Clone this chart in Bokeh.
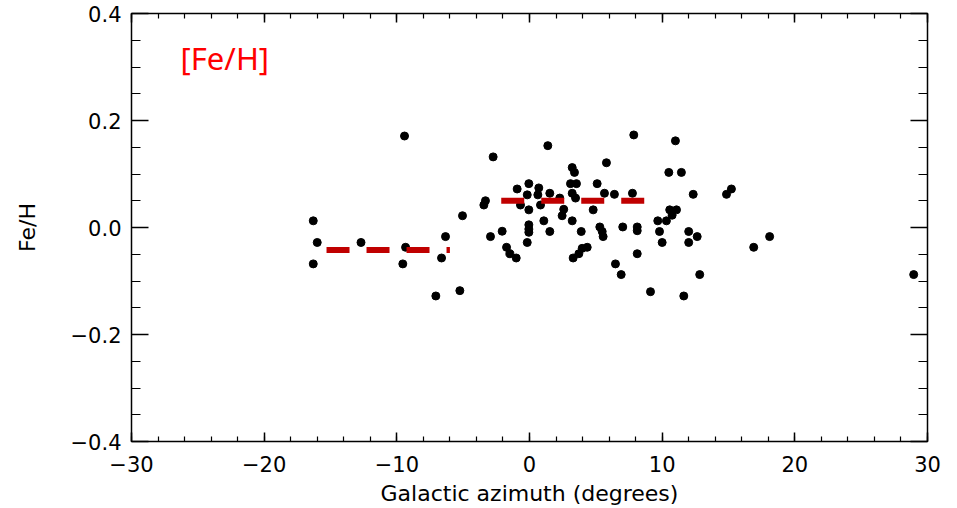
from bokeh.plotting import figure
from bokeh.models import LinearAxis, SingleIntervalTicker, Range1d, Label, ColumnDataSource
from bokeh.embed import file_html
from bokeh.resources import INLINE

# Galactic azimuth (degrees) and [Fe/H] of the stars
azimuth = [-16.3, -16.0, -16.3, -12.7, -9.34, -9.55, -9.42, -6.33, -6.63, -7.06, -5.25, -5.05,
           -3.32, -3.44, -2.94, -2.74, -2.06, -1.73, -1.48, -1.0, -0.93, -0.68, -0.17, -0.05,
           -0.05, -0.05, -0.05, -0.05, -0.17, 0.70, 0.63, 0.83, 1.08, 1.38, 1.53, 1.53,
           2.28, 2.58, 2.46, 3.22, 3.39, 3.09, 3.54, 3.22, 3.47, 3.22, 3.9, 3.29,
           3.72, 3.97, 4.35, 4.8, 5.1, 5.65, 5.8, 5.3, 5.48, 5.55, 6.4, 7.03,
           6.48, 6.91, 7.76, 7.86, 8.12, 8.12, 8.12,
           11.0, 10.5, 11.45, 12.34, 14.85, 15.22, 10.57, 11.08, 10.75, 9.67, 10.32, 9.8,
           12.0, 12.64, 10.0, 12.0, 12.83, 9.12, 11.63, 16.9, 18.1, 28.96]
feh = [0.0125, -0.028, -0.068, -0.028, -0.037, -0.068, 0.171, -0.017, -0.057, -0.128, -0.118, 0.022,
       0.050, 0.042, -0.017, 0.132, -0.007, -0.037, -0.049, -0.057, 0.072, 0.042, 0.061, 0.082,
       0.033, 0.005, -0.003, -0.009, -0.028, 0.074, 0.061, 0.042, 0.0125, 0.153, 0.064, -0.0075,
       0.055, 0.034, 0.022, 0.112, 0.103, 0.082, 0.082, 0.064, 0.055, 0.0125, -0.0075, -0.057,
       -0.049, -0.039, -0.037, 0.033, 0.082, 0.064, 0.121, 0.001, -0.0075, -0.017, 0.062, 0.001,
       -0.068, -0.088, 0.064, 0.173, 0.001, -0.006, -0.049,
       0.162, 0.103, 0.103, 0.062, 0.062, 0.072, 0.033, 0.033, 0.023, 0.0125, 0.0125, -0.0075,
       -0.0075, -0.017, -0.028, -0.028, -0.088, -0.12, -0.128, -0.037, -0.017, -0.088]

# Mean [Fe/H] of the two azimuth groups (dashed red lines)
mean_x_start = [-15.3, -2.13]
mean_x_end = [-6.0, 8.67]
mean_feh = [-0.042, 0.050]

x_ticks = [-30, -20, -10, 0, 10, 20, 30]
y_ticks = [-0.4, -0.2, 0.0, 0.2, 0.4]

p = figure(width=957, height=508, output_backend="svg", toolbar_location=None,
           x_range=Range1d(-30, 30), y_range=Range1d(-0.4, 0.4),
           min_border_left=131, min_border_right=30, min_border_top=13, min_border_bottom=67)
p.background_fill_color = "white"
p.border_fill_color = "white"
p.outline_line_color = "black"
p.outline_line_width = 1.5
p.xgrid.visible = False
p.ygrid.visible = False

font = "DejaVu Sans"

def style_axis(ax, major_in, minor_in, show_labels):
    ax.axis_line_color = None
    ax.major_tick_in = major_in
    ax.major_tick_out = 0
    ax.minor_tick_in = minor_in
    ax.minor_tick_out = 0
    ax.major_tick_line_color = "black"
    ax.minor_tick_line_color = "black"
    ax.major_tick_line_width = 1.5
    ax.minor_tick_line_width = 1.2
    ax.major_label_text_font = font
    ax.major_label_text_color = "black"
    if not show_labels:
        ax.major_label_text_font_size = "0px"
        ax.major_label_text_alpha = 0

xb = p.xaxis[0]
xb.ticker = SingleIntervalTicker(interval=10, num_minor_ticks=5)
style_axis(xb, 9, 5, True)
xb.major_label_text_font_size = "21px"
xb.major_label_standoff = 14
xb.axis_label = "Galactic azimuth (degrees)"
xb.axis_label_text_font = font
xb.axis_label_text_color = "black"
xb.axis_label_text_font_style = "normal"
xb.axis_label_text_font_size = "22px"
xb.axis_label_standoff = 6
xb.major_label_overrides = {t: ("\u2212" + str(abs(t)) if t < 0 else str(t)) for t in x_ticks}

yl = p.yaxis[0]
yl.ticker = SingleIntervalTicker(interval=0.2, num_minor_ticks=4)
style_axis(yl, 17, 9, True)
yl.major_label_text_font_size = "21px"
yl.major_label_standoff = 10
yl.axis_label = "Fe/H"
yl.axis_label_text_font = font
yl.axis_label_text_color = "black"
yl.axis_label_text_font_style = "normal"
yl.axis_label_text_font_size = "22px"
yl.axis_label_standoff = 28
yl.major_label_overrides = {t: (("\u2212%.1f" % abs(t)) if t < 0 else "%.1f" % t) for t in y_ticks}

xt = LinearAxis(ticker=SingleIntervalTicker(interval=10, num_minor_ticks=5))
style_axis(xt, 9, 5, False)
p.add_layout(xt, "above")

yr = LinearAxis(ticker=SingleIntervalTicker(interval=0.2, num_minor_ticks=4))
style_axis(yr, 17, 9, False)
p.add_layout(yr, "right")

src = ColumnDataSource(dict(x=azimuth, y=feh))
p.scatter("x", "y", source=src, size=8, marker="circle", fill_color="black", line_color="black")

seg = ColumnDataSource(dict(x0=mean_x_start, x1=mean_x_end, y=mean_feh))
p.segment(x0="x0", y0="y", x1="x1", y1="y", source=seg, line_color="#C00000",
          line_width=6, line_dash="23 17", line_cap="butt")

p.add_layout(Label(x=-26.3, y=0.317, text="[Fe/H]", text_color="red", text_font="Noto Sans",
                   text_font_size="31px", text_baseline="middle", text_align="left"))

open("out.html", "w").write(file_html(p, INLINE))
